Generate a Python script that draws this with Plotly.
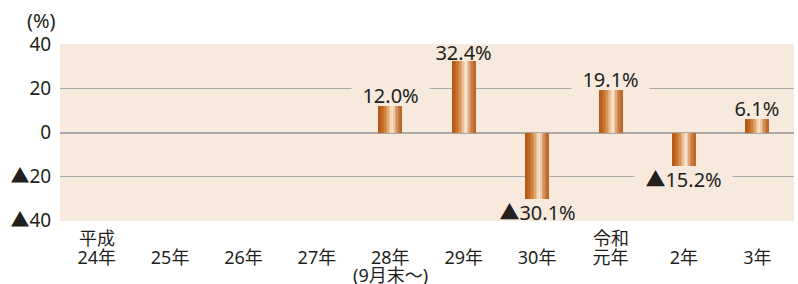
import plotly.graph_objects as go

categories = ["24年", "25年", "26年", "27年", "28年", "29年", "30年", "元年", "2年", "3年"]
era_above = ["平成", "", "", "", "", "", "", "令和", "", ""]
note_below = ["", "", "", "", "(9月末〜)", "", "", "", "", ""]
values = [None, None, None, None, 12.0, 32.4, -30.1, 19.1, -15.2, 6.1]
y_ticks = [40, 20, 0, -20, -40]
y_tick_labels = ["40", "20", "0", "▲20", "▲40"]

FONT = "Noto Sans, Noto Sans CJK JP, sans-serif"
BG = "#f8e9dd"
GRID = "#a9a9a9"
TXT = "#231f1c"

# horizontal gradient of the bars (left -> right)
grad = ["#b45a15", "#b95f1b", "#bf6823", "#c6742f", "#cf833f", "#d99353",
        "#e3a86f", "#ecc094", "#f4d7bb", "#f7e3cf", "#eccaa9", "#dfa77c",
        "#d28f5c", "#c87b42", "#c27030", "#bd6826"]
N = len(grad)
W = 0.327
sw = W / N

fig = go.Figure()
for i, c in enumerate(grad):
    w = sw * (1.35 if i < N - 1 else 1.0)
    fig.add_trace(go.Bar(
        x=categories, y=values, width=w, offset=-W / 2 + i * sw,
        marker=dict(color=c, line=dict(width=0)), showlegend=False,
        hoverinfo="skip"))

NB = "\u00a0"

def fmt(v):
    return NB * 2 + ("▲" if v < 0 else "") + f"{abs(v):.1f}%" + NB * 2

for cat, v in zip(categories, values):
    if v is None:
        continue
    near_edge = abs(v) > 25
    fig.add_annotation(x=cat, y=v, xref="x", yref="y", text=fmt(v),
                       showarrow=False, yanchor="middle",
                       yshift=(9 if near_edge else 11) if v > 0 else -13,
                       height=20,
                       bgcolor="rgba(0,0,0,0)" if near_edge else BG,
                       borderpad=0,
                       font=dict(family=FONT, size=20, color=TXT))

for cat, t in zip(categories, era_above):
    if t:
        fig.add_annotation(x=cat, y=0, xref="x", yref="paper", text=t,
                           showarrow=False, yanchor="middle", yshift=-17,
                           font=dict(family=FONT, size=18, color=TXT))
for cat, t in zip(categories, note_below):
    if t:
        fig.add_annotation(x=cat, y=0, xref="x", yref="paper", text=t,
                           showarrow=False, yanchor="middle", yshift=-54,
                           font=dict(family=FONT, size=18, color=TXT))

fig.add_annotation(x=0, y=1, xref="paper", yref="paper", text="(%)",
                   showarrow=False, xanchor="center", yanchor="middle",
                   xshift=-19, yshift=24,
                   font=dict(family=FONT, size=20, color=TXT))

fig.update_layout(
    width=798, height=284,
    margin=dict(l=60, r=4, t=44, b=63),
    paper_bgcolor="white", plot_bgcolor=BG,
    barmode="overlay", bargap=0,
    font=dict(family=FONT, color=TXT),
)
fig.update_xaxes(
    type="category", range=[-0.5, 9.5], showgrid=False, showline=False,
    zeroline=False, ticks="outside", ticklen=20, tickcolor="rgba(0,0,0,0)",
    tickfont=dict(family=FONT, size=18, color=TXT), fixedrange=True)
fig.update_yaxes(
    range=[-40.2, 40.2], tickvals=y_ticks, ticktext=y_tick_labels,
    showgrid=True, gridcolor=GRID, gridwidth=1,
    zeroline=True, zerolinecolor=GRID, zerolinewidth=2, showline=False,
    ticks="outside", ticklen=4, tickcolor="rgba(0,0,0,0)",
    tickfont=dict(family=FONT, size=19, color=TXT), fixedrange=True)

fig.write_html("out.html", config={"displayModeBar": False},
               post_script="document.body.style.margin='0';")
